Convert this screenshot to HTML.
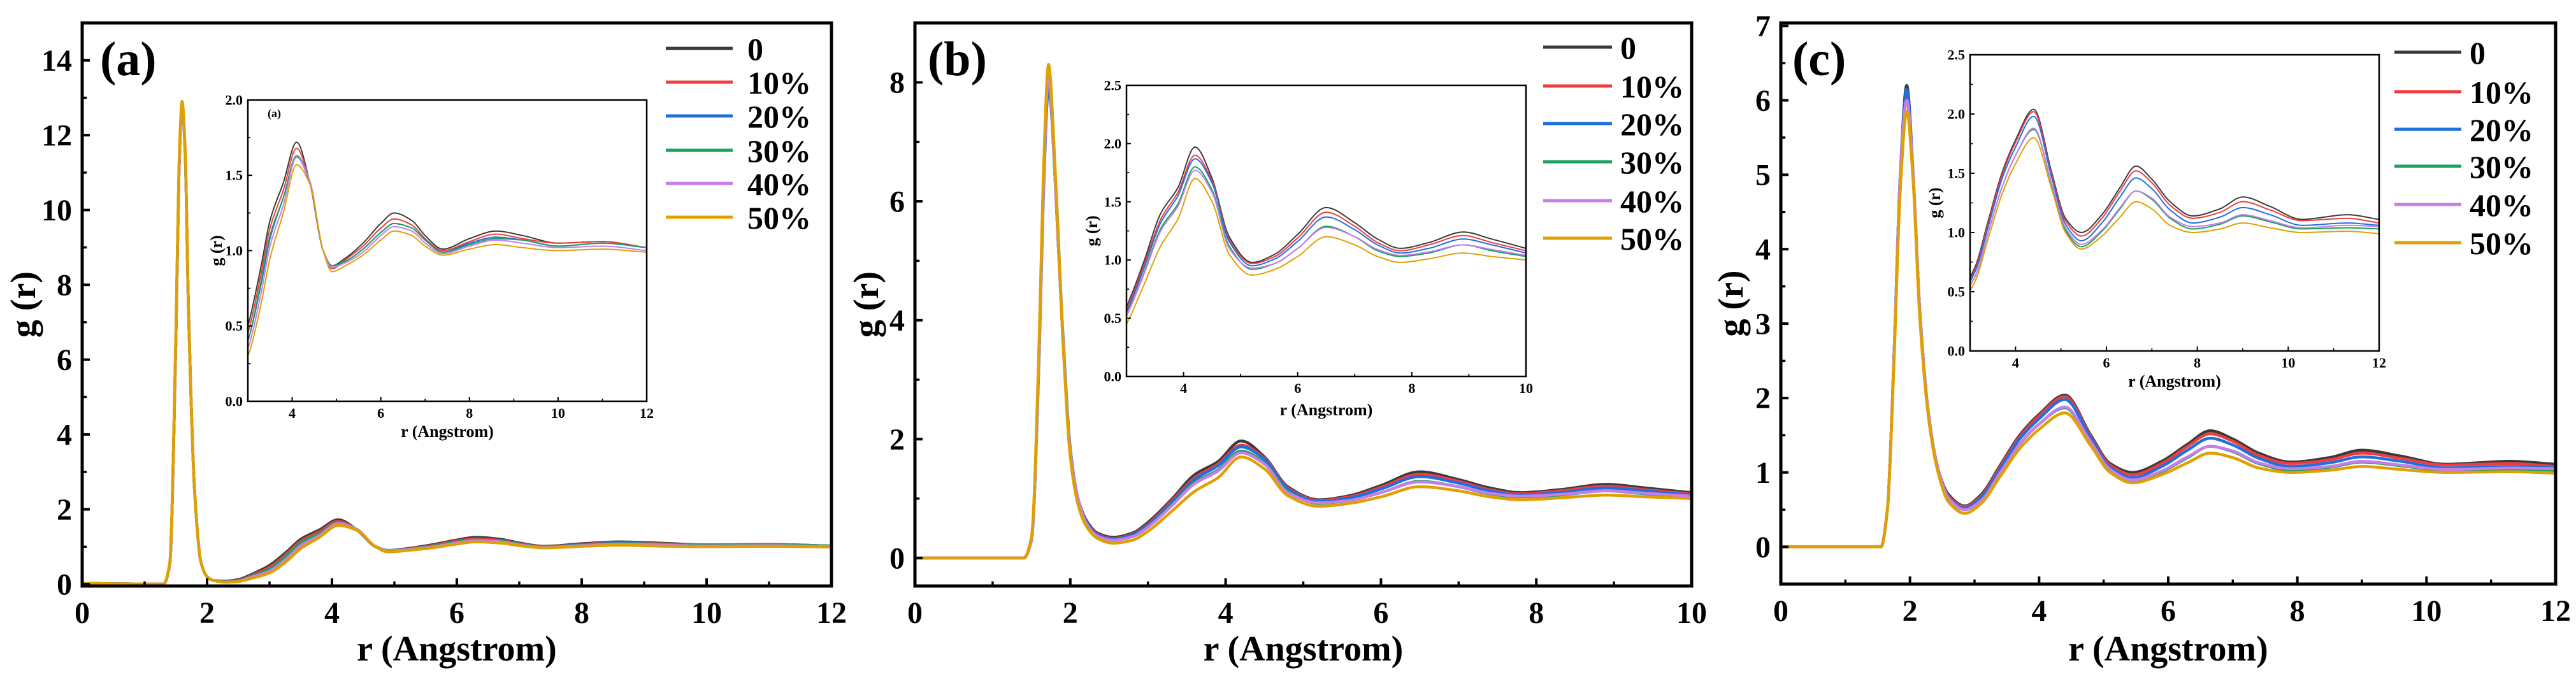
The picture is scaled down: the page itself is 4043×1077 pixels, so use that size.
<!DOCTYPE html>
<html><head><meta charset="utf-8"><style>
html,body{margin:0;padding:0;background:#fff;}
svg{display:block;font-family:"Liberation Serif",serif;font-weight:bold;}
</style></head><body>
<svg id="fig" width="4043" height="1077" viewBox="0 0 4043 1077" xmlns="http://www.w3.org/2000/svg"></svg>
<script>
// ---------- data ----------
const seriesLabels = ["0","10%","20%","30%","40%","50%"];
const seriesColors = ["#3a3a3a","#f03c3c","#1e6fe0","#1aa060","#c77ee8","#e0a000"];

// panel (a)
const rA = [0,1.3,1.4,1.5,1.55,1.6,1.65,1.7,1.8,1.9,2.0,2.1,2.3,2.5,2.7,3.0,3.3,3.5,3.8,4.1,4.4,4.7,4.9,5.2,5.6,6.0,6.3,6.7,7.0,7.4,8.0,8.6,9.2,10,11,12];
const a0 = [0.02,0,0.5,6.5,11,12.8,11.5,7.5,2.5,0.6,0.2,0.1,0.08,0.12,0.25,0.5,0.9,1.2,1.45,1.72,1.45,1.0,0.9,0.95,1.05,1.18,1.25,1.2,1.1,1.01,1.08,1.13,1.1,1.05,1.06,1.02];
const a1 = [0.02,0,0.5,6.5,11,12.8,11.5,7.5,2.5,0.6,0.2,0.1,0.07,0.1,0.22,0.45,0.85,1.15,1.4,1.68,1.45,1.0,0.88,0.94,1.03,1.15,1.21,1.17,1.08,1.0,1.06,1.11,1.08,1.05,1.06,1.02];
const a2 = [0.02,0,0.5,6.5,11,12.8,11.5,7.5,2.5,0.6,0.2,0.1,0.06,0.09,0.2,0.4,0.78,1.08,1.35,1.62,1.45,1.0,0.9,0.93,1.01,1.12,1.18,1.15,1.07,0.99,1.05,1.09,1.07,1.03,1.05,1.02];
const a3 = [0.02,0,0.5,6.5,11,12.8,11.5,7.5,2.5,0.6,0.2,0.1,0.06,0.09,0.2,0.4,0.8,1.1,1.35,1.63,1.46,1.0,0.9,0.93,1.01,1.12,1.18,1.15,1.07,0.99,1.04,1.08,1.07,1.03,1.05,1.02];
const a4 = [0.02,0,0.5,6.5,11,12.8,11.5,7.5,2.5,0.6,0.2,0.1,0.05,0.08,0.18,0.35,0.72,1.03,1.3,1.62,1.46,1.0,0.89,0.92,0.99,1.1,1.16,1.13,1.05,0.98,1.03,1.07,1.05,1.02,1.03,1.0];
const a5 = [0.02,0,0.55,6.7,11.2,12.9,11.6,7.5,2.5,0.6,0.2,0.1,0.05,0.07,0.15,0.3,0.65,0.95,1.25,1.57,1.44,1.0,0.86,0.9,0.97,1.07,1.13,1.1,1.03,0.97,1.01,1.04,1.02,1.0,1.01,0.99];

// panel (b)
const rB = [0,1.4,1.5,1.6,1.65,1.72,1.8,1.9,2.0,2.1,2.2,2.35,2.55,2.8,3.0,3.3,3.6,3.9,4.2,4.5,4.8,5.2,5.6,6.0,6.5,7.0,7.4,7.8,8.3,8.9,9.4,10];
const b0 = [0,0,0.3,3.5,6,8.0,6.5,3.8,1.8,1.0,0.65,0.42,0.35,0.42,0.6,0.98,1.4,1.62,1.97,1.7,1.2,0.98,1.05,1.22,1.45,1.32,1.18,1.1,1.15,1.24,1.18,1.1];
const b1 = [0,0,0.3,3.5,6,8.1,6.5,3.8,1.8,1.0,0.63,0.4,0.33,0.4,0.57,0.95,1.35,1.58,1.9,1.68,1.18,0.97,1.03,1.19,1.41,1.29,1.15,1.08,1.13,1.21,1.15,1.08];
const b2 = [0,0,0.3,3.4,5.9,7.9,6.6,3.9,1.85,1.0,0.62,0.39,0.32,0.39,0.55,0.92,1.32,1.55,1.87,1.66,1.16,0.95,1.01,1.16,1.37,1.26,1.13,1.06,1.1,1.18,1.13,1.06];
const b3 = [0,0,0.3,3.5,6.0,8.1,6.5,3.8,1.8,1.0,0.6,0.37,0.3,0.36,0.52,0.88,1.27,1.48,1.8,1.6,1.12,0.92,0.97,1.1,1.29,1.2,1.08,1.03,1.06,1.13,1.08,1.03];
const b4 = [0,0,0.3,3.5,6.0,8.1,6.5,3.8,1.8,1.0,0.6,0.37,0.3,0.36,0.52,0.87,1.25,1.46,1.77,1.58,1.1,0.93,0.97,1.1,1.28,1.2,1.09,1.04,1.07,1.13,1.09,1.04];
const b5 = [0,0,0.35,3.7,6.3,8.3,6.7,3.8,1.7,0.9,0.55,0.33,0.25,0.3,0.45,0.78,1.12,1.35,1.7,1.5,1.05,0.87,0.92,1.03,1.2,1.13,1.03,0.98,1.01,1.06,1.03,1.0];

// panel (c)
const rC = [0,1.55,1.65,1.75,1.85,1.95,2.05,2.15,2.3,2.45,2.6,2.85,3.1,3.4,3.7,4.0,4.4,4.8,5.1,5.45,5.9,6.3,6.65,7.0,7.4,7.9,8.5,9.0,9.6,10.3,11.3,12];
const c0 = [0,0,0.5,2.5,5.0,6.2,5.0,3.2,1.7,1.0,0.7,0.55,0.7,1.1,1.5,1.78,2.04,1.5,1.12,1.0,1.15,1.38,1.56,1.45,1.26,1.14,1.2,1.3,1.22,1.11,1.15,1.11];
const c1 = [0,0,0.5,2.5,5.0,6.1,5.0,3.2,1.7,1.0,0.68,0.54,0.68,1.08,1.48,1.76,2.02,1.48,1.1,0.97,1.12,1.35,1.52,1.42,1.23,1.12,1.17,1.26,1.19,1.1,1.12,1.08];
const c2 = [0,0,0.5,2.5,5.0,6.15,5.0,3.2,1.7,1.0,0.67,0.52,0.66,1.05,1.45,1.72,1.98,1.46,1.07,0.93,1.08,1.3,1.46,1.37,1.19,1.08,1.13,1.21,1.15,1.06,1.08,1.06];
const c3 = [0,0,0.5,2.5,5.0,6.0,5.0,3.2,1.7,1.0,0.65,0.5,0.62,1.0,1.38,1.65,1.87,1.4,1.02,0.88,1.01,1.2,1.35,1.28,1.12,1.03,1.07,1.14,1.09,1.03,1.04,1.03];
const c4 = [0,0,0.5,2.5,5.0,6.0,5.0,3.2,1.7,1.0,0.65,0.5,0.62,1.0,1.38,1.65,1.88,1.41,1.04,0.9,1.02,1.21,1.35,1.29,1.13,1.05,1.08,1.15,1.1,1.04,1.06,1.05];
const c5 = [0,0,0.5,2.4,4.8,5.85,4.9,3.1,1.65,0.95,0.6,0.45,0.58,0.95,1.32,1.58,1.8,1.36,1.0,0.86,0.97,1.13,1.26,1.2,1.06,1.0,1.03,1.08,1.04,1.0,1.01,0.99];

const yTicksA = [0,2,4,6,8,10,12,14];
const xTicksA = [0,2,4,6,8,10,12];
const yTicksB = [0,2,4,6,8];
const xTicksB = [0,2,4,6,8,10];
const yTicksC = [0,1,2,3,4,5,6,7];
const xTicksC = [0,2,4,6,8,10,12];
const insetYTicksA = ["0.0","0.5","1.0","1.5","2.0"];
const insetYTicksBC = ["0.0","0.5","1.0","1.5","2.0","2.5"];
const insetXTicksA = [4,6,8,10,12];
const insetXTicksB = [4,6,8,10];

// ---------- drawing ----------
const NS = "http://www.w3.org/2000/svg";
const svg = document.getElementById("fig");
function mk(tag, attrs, parent){
  const e = document.createElementNS(NS, tag);
  for (const k in attrs) e.setAttribute(k, attrs[k]);
  (parent||svg).appendChild(e);
  return e;
}
// monotone cubic (Fritsch-Carlson) path through pixel points (x increasing)
function smoothPath(pts){
  const n = pts.length;
  const dx=[], m=[];
  for (let i=0;i<n-1;i++){ dx[i]=pts[i+1][0]-pts[i][0]; m[i]=(pts[i+1][1]-pts[i][1])/dx[i]; }
  const t=[];
  t[0]=m[0]; t[n-1]=m[n-2];
  for (let i=1;i<n-1;i++){
    if (m[i-1]*m[i] <= 0) t[i]=0;
    else { const w1=2*dx[i]+dx[i-1], w2=dx[i]+2*dx[i-1]; t[i]=(w1+w2)/(w1/m[i-1]+w2/m[i]); }
  }
  let d = "M" + pts[0][0].toFixed(1) + "," + pts[0][1].toFixed(1);
  for (let i=0;i<n-1;i++){
    const h=dx[i];
    const c1x=pts[i][0]+h/3, c1y=pts[i][1]+t[i]*h/3;
    const c2x=pts[i+1][0]-h/3, c2y=pts[i+1][1]-t[i+1]*h/3;
    d += " C"+c1x.toFixed(1)+","+c1y.toFixed(1)+" "+c2x.toFixed(1)+","+c2y.toFixed(1)+" "+pts[i+1][0].toFixed(1)+","+pts[i+1][1].toFixed(1);
  }
  return d;
}
let clipId = 0;
function drawPanel(cfg){
  const g = mk("g", {});
  
  
  const X = v => cfg.L + (v - cfg.x0)/(cfg.x1 - cfg.x0)*(cfg.R - cfg.L);
  const Y = v => cfg.B - (v - cfg.y0)/(cfg.y1 - cfg.y0)*(cfg.B - cfg.T);
  const cid = "clip"+(clipId++);
  const cp = mk("clipPath", {id:cid}, g);
  mk("rect", {x:cfg.L, y:cfg.T, width:cfg.R-cfg.L, height:cfg.B-cfg.T}, cp);
  cfg.series.forEach((s,i)=>{
    const pts = cfg.r.map((rv,j)=>[X(rv), Y(s[j])]);
    const p = mk("path", {d:smoothPath(pts), fill:"none", stroke:seriesColors[i], "stroke-width":cfg.lw, "stroke-linejoin":"round", "clip-path":"url(#"+cid+")"}, g);
    
    
  });
  const f = mk("rect", {x:cfg.L, y:cfg.T, width:cfg.R-cfg.L, height:cfg.B-cfg.T, fill:"none", stroke:"#000", "stroke-width":cfg.aw}, g);
  
  
  cfg.xt.forEach((t,k)=>{
    const x = X(t);
    mk("line", {x1:x, x2:x, y1:cfg.B, y2:cfg.B-cfg.tl, stroke:"#000", "stroke-width":cfg.aw*0.8}, g);
    if (cfg.minor && k < cfg.xt.length-1){
      const xm = X(t + (cfg.xt[1]-cfg.xt[0])/2);
      mk("line", {x1:xm, x2:xm, y1:cfg.B, y2:cfg.B-cfg.tl*0.6, stroke:"#000", "stroke-width":cfg.aw*0.7}, g);
    }
    const tx = mk("text", {x:x, y:cfg.B+cfg.xlOff, "font-size":cfg.fs, "text-anchor":"middle"}, g);
    tx.textContent = t;
    
    
  });
  cfg.yt.forEach((t,k)=>{
    const v = parseFloat(t);
    const y = Y(v);
    mk("line", {x1:cfg.L, x2:cfg.L+cfg.tl, y1:y, y2:y, stroke:"#000", "stroke-width":cfg.aw*0.8}, g);
    if (cfg.minor && k < cfg.yt.length-1){
      const ym = Y(v + (parseFloat(cfg.yt[1])-parseFloat(cfg.yt[0]))/2);
      mk("line", {x1:cfg.L, x2:cfg.L+cfg.tl*0.6, y1:ym, y2:ym, stroke:"#000", "stroke-width":cfg.aw*0.7}, g);
    }
    const ty = mk("text", {x:cfg.L-cfg.ylOff, y:y+cfg.fs*0.34, "font-size":cfg.fs, "text-anchor":"end"}, g);
    ty.textContent = t;
    
    
  });
  const xtitle = mk("text", {x:(cfg.L+cfg.R)/2, y:cfg.xTitleY, "font-size":cfg.tfs, "text-anchor":"middle"}, g);
  xtitle.textContent = "r (Angstrom)";
  
  
  const ytitle = mk("text", {x:0, y:0, "font-size":cfg.tfs, "text-anchor":"middle", transform:"translate("+cfg.yTitleX+","+((cfg.T+cfg.B)/2)+") rotate(-90)"}, g);
  ytitle.textContent = "g (r)";
  
  
  return g;
}
function drawLegend(name, x1, x2, tx, rows){
  const g = mk("g", {});
  
  
  rows.forEach((y,i)=>{
    const l = mk("line", {x1:x1, x2:x2, y1:y, y2:y, stroke:seriesColors[i], "stroke-width":5}, g);
    
    
    const t = mk("text", {x:tx, y:y+18, "font-size":50}, g);
    t.textContent = seriesLabels[i];
    
    
  });
}
function panelLabel(txt, x, y){
  const t = mk("text", {x:x, y:y, "font-size":76});
  t.textContent = txt;
  
  
}

const mainStyle = {lw:4.5, aw:5, tl:12, fs:48, tfs:56, xlOff:58, ylOff:16, minor:true};
const insetStyle = {lw:2, aw:2.5, tl:7, fs:22, tfs:26, xlOff:26, ylOff:8, minor:true};

drawPanel(Object.assign({name:"panel-a", L:129, R:1305, T:36, B:920, x0:0, x1:12, y0:-0.05, y1:15, r:rA, series:[a0,a1,a2,a3,a4,a5], xt:xTicksA, yt:yTicksA, xTitleY:1037, yTitleX:55}, mainStyle));
drawPanel(Object.assign({name:"inset-a", L:389, R:1015, T:157, B:630, x0:3, x1:12, y0:0, y1:2, r:rA, series:[a0,a1,a2,a3,a4,a5], xt:insetXTicksA, yt:insetYTicksA, xTitleY:686, yTitleX:348}, insetStyle));
(function(){const t=mk("text",{x:420,y:184,"font-size":18});t.textContent="(a)";})();
drawLegend("legend-a", 1045, 1150, 1173, [76,129,182,236,288,341]);
panelLabel("(a)", 157, 118);

drawPanel(Object.assign({name:"panel-b", L:1436, R:2655, T:36, B:920, x0:0, x1:10, y0:-0.47, y1:9.0, r:rB, series:[b0,b1,b2,b3,b4,b5], xt:xTicksB, yt:yTicksB, xTitleY:1037, yTitleX:1378}, mainStyle));
drawPanel(Object.assign({name:"inset-b", L:1768, R:2395, T:134, B:591, x0:3, x1:10, y0:0, y1:2.5, r:rB, series:[b0,b1,b2,b3,b4,b5], xt:insetXTicksB, yt:insetYTicksBC, xTitleY:652, yTitleX:1722}, insetStyle));
drawLegend("legend-b", 2422, 2530, 2543, [74,135,194,254,315,374]);
panelLabel("(b)", 1456, 118);

drawPanel(Object.assign({name:"panel-c", L:2795, R:4011, T:36, B:917, x0:0, x1:12, y0:-0.5, y1:7.04, r:rC, series:[c0,c1,c2,c3,c4,c5], xt:xTicksC, yt:yTicksC, xTitleY:1037, yTitleX:2735}, mainStyle));
drawPanel(Object.assign({name:"inset-c", L:3092, R:3734, T:86, B:551, x0:3, x1:12, y0:0, y1:2.5, r:rC, series:[c0,c1,c2,c3,c4,c5], xt:insetXTicksA, yt:insetYTicksBC, xTitleY:607, yTitleX:3045}, insetStyle));
drawLegend("legend-c", 3758, 3863, 3876, [82,144,203,261,321,381]);
panelLabel("(c)", 2813, 118);
</script>
</body></html>
